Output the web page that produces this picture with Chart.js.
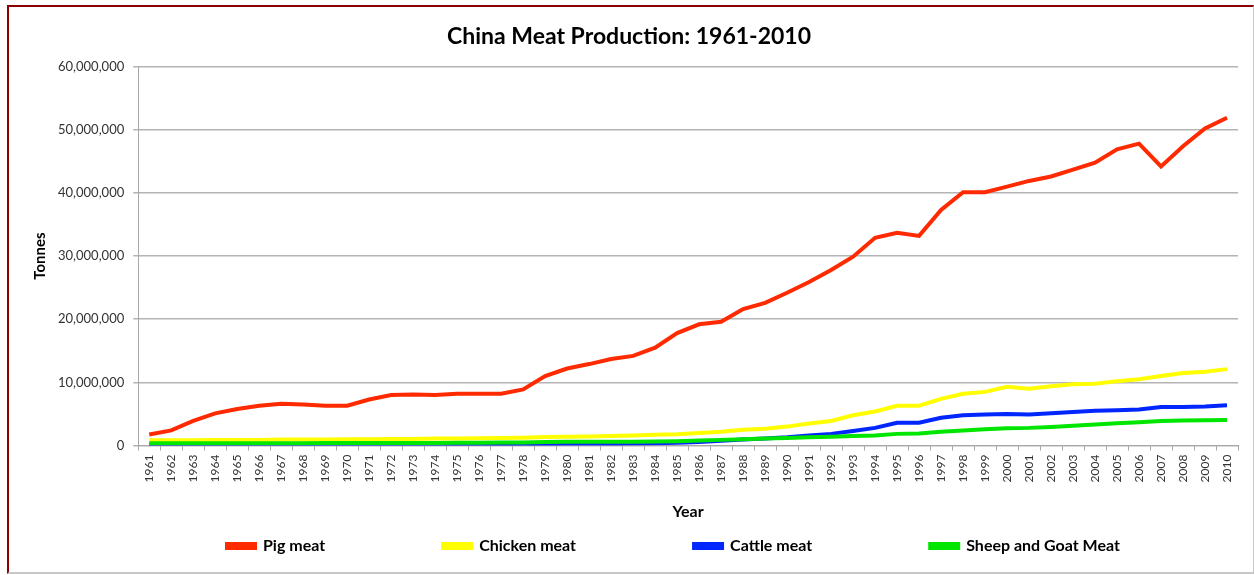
<!DOCTYPE html>
<html lang="en">

<head>
    <meta charset="UTF-8">
    <title>China Meat Production: 1961-2010</title>
    <script src="https://cdn.jsdelivr.net/npm/chart.js"></script>
    <style>
        html, body {
            margin: 0;
            padding: 0;
            background: #fff;
        }

        .frame {
            position: absolute;
            left: 7px;
            top: 5px;
            width: 1244px;
            height: 565px;
            border-top: 2px solid #8b0000;
            border-left: 2px solid #8b0000;
            border-right: 1px solid #c8c8c8;
            border-bottom: 2px solid #c8c8c8;
        }

        .chart-box {
            position: absolute;
            left: 0;
            top: 0;
            width: 1254px;
            height: 575px;
        }
    </style>
</head>

<body>
    <div class="frame"></div>
    <div class="chart-box">
        <canvas id="meatChart"></canvas>
    </div>

    <script>
        // years on the x axis
        const years = [];
        for (let y = 1961; y <= 2010; y++) years.push(String(y));

        // production in millions of tonnes
        const pigMeat = [
            1.75, 2.4, 3.9, 5.1, 5.8, 6.3, 6.6, 6.5, 6.3, 6.3,
            7.3, 8.0, 8.1, 8.0, 8.2, 8.2, 8.2, 8.9, 11.0, 12.2,
            12.9, 13.7, 14.2, 15.5, 17.8, 19.2, 19.6, 21.6, 22.6, 24.2,
            25.9, 27.8, 29.9, 32.9, 33.7, 33.2, 37.3, 40.1, 40.1, 41.0,
            41.9, 42.6, 43.7, 44.8, 46.9, 47.8, 44.2, 47.4, 50.2, 51.9
        ];
        const chickenMeat = [
            0.85, 0.85, 0.85, 0.9, 0.9, 0.9, 0.95, 0.95, 0.95, 1.0,
            1.0, 1.05, 1.05, 1.1, 1.1, 1.15, 1.2, 1.25, 1.35, 1.4,
            1.45, 1.5, 1.6, 1.7, 1.8, 2.0, 2.2, 2.5, 2.65, 3.0,
            3.5, 3.9, 4.8, 5.4, 6.3, 6.3, 7.4, 8.2, 8.5, 9.3,
            9.0, 9.4, 9.7, 9.8, 10.2, 10.5, 11.0, 11.5, 11.7, 12.1
        ];
        const cattleMeat = [
            0.15, 0.15, 0.15, 0.15, 0.15, 0.2, 0.2, 0.2, 0.2, 0.2,
            0.2, 0.2, 0.2, 0.2, 0.2, 0.2, 0.25, 0.25, 0.25, 0.27,
            0.28, 0.3, 0.32, 0.35, 0.45, 0.55, 0.75, 0.95, 1.1, 1.3,
            1.6, 1.85, 2.3, 2.8, 3.6, 3.6, 4.4, 4.8, 4.9, 5.0,
            4.9, 5.1, 5.3, 5.5, 5.6, 5.7, 6.1, 6.1, 6.2, 6.4
        ];
        const sheepGoatMeat = [
            0.35, 0.35, 0.35, 0.35, 0.35, 0.35, 0.38, 0.38, 0.4, 0.4,
            0.4, 0.4, 0.42, 0.42, 0.45, 0.45, 0.48, 0.5, 0.55, 0.6,
            0.6, 0.6, 0.62, 0.65, 0.7, 0.8, 0.9, 1.0, 1.1, 1.2,
            1.3, 1.4, 1.5, 1.6, 1.85, 1.9, 2.2, 2.4, 2.6, 2.75,
            2.8, 2.95, 3.15, 3.35, 3.55, 3.7, 3.9, 3.95, 4.0, 4.05
        ];

        const toTonnes = arr => arr.map(v => v * 1000000);

        const ctx = document.getElementById('meatChart').getContext('2d');
        new Chart(ctx, {
            type: 'line',
            data: {
                labels: years,
                datasets: [
                    // order: later series are drawn on top, like the original
                    { label: 'Pig meat', data: toTonnes(pigMeat), borderColor: '#ff2a00', backgroundColor: '#ff2a00', order: 3 },
                    { label: 'Chicken meat', data: toTonnes(chickenMeat), borderColor: '#ffff00', backgroundColor: '#ffff00', order: 2 },
                    { label: 'Cattle meat', data: toTonnes(cattleMeat), borderColor: '#0026ff', backgroundColor: '#0026ff', order: 1 },
                    { label: 'Sheep and Goat Meat', data: toTonnes(sheepGoatMeat), borderColor: '#00e600', backgroundColor: '#00e600', order: 0 }
                ]
            },
            options: {
                responsive: true,
                maintainAspectRatio: false,
                animation: false,
                elements: {
                    line: { borderWidth: 4, tension: 0 },
                    point: { radius: 0 }
                },
                layout: {
                    padding: { left: 20, right: 16, top: 10, bottom: 11 }
                },
                plugins: {
                    title: {
                        display: true,
                        text: 'China Meat Production: 1961-2010',
                        color: '#000',
                        font: { family: 'Lato', size: 23, weight: 'bold' },
                        padding: { top: 13, bottom: 16 }
                    },
                    legend: {
                        position: 'bottom',
                        align: 'end',
                        // empty title with negative padding cancels the vertical part of the wide item padding
                        title: {
                            display: true,
                            text: '',
                            font: { size: 12 },
                            padding: { top: -122, bottom: 0 }
                        },
                        labels: {
                            color: '#000',
                            font: { family: 'Lato', size: 16, weight: 'bold' },
                            boxWidth: 28,
                            boxHeight: 4,
                            padding: 118,
                            sort: (a, b) => a.datasetIndex - b.datasetIndex
                        }
                    },
                    tooltip: { enabled: false }
                },
                scales: {
                    x: {
                        offset: true,
                        grid: {
                            offset: true,
                            drawOnChartArea: false,
                            drawTicks: true,
                            tickLength: 5,
                            color: '#a8a8a8'
                        },
                        border: { color: '#a8a8a8' },
                        ticks: {
                            autoSkip: false,
                            minRotation: 90,
                            maxRotation: 90,
                            padding: 4,
                            color: '#333',
                            font: { family: 'Lato', size: 12 }
                        },
                        title: {
                            display: true,
                            text: 'Year',
                            color: '#000',
                            font: { family: 'Lato', size: 16, weight: 'bold' },
                            padding: { top: 16, bottom: 6 }
                        }
                    },
                    y: {
                        min: 0,
                        max: 60000000,
                        ticks: {
                            stepSize: 10000000,
                            padding: 9,
                            color: '#333',
                            font: { family: 'Lato', size: 13 },
                            callback: v => v.toLocaleString('en-US')
                        },
                        grid: {
                            color: '#b4b4b4',
                            lineWidth: 1.5,
                            tickLength: 5
                        },
                        border: { color: '#a8a8a8' },
                        title: {
                            display: true,
                            text: 'Tonnes',
                            color: '#000',
                            font: { family: 'Lato', size: 15, weight: 'bold' },
                            padding: { top: 11, bottom: 0 }
                        }
                    }
                }
            }
        });
    </script>
</body>

</html>
